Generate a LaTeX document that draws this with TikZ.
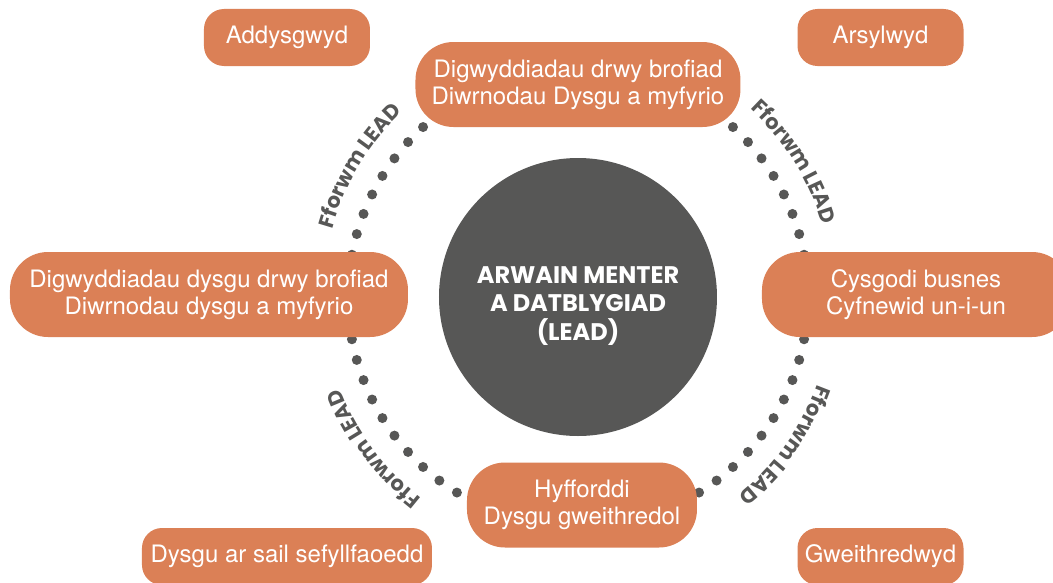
\documentclass[tikz,border=0pt]{standalone}
\usepackage{fontspec}
\usetikzlibrary{positioning, decorations.text}
\newfontfamily\boxfont{TeX Gyre Heros}
\newfontfamily\popfont{Poppins}
\definecolor{leadOrange}{HTML}{DB8056}
\definecolor{leadGrey}{HTML}{575756}

\begin{document}
\begin{tikzpicture}[x=1pt, y=1pt,
	pill/.style={rectangle, rounded corners=20pt, fill=leadOrange, text=white,
		font=\boxfont\fontsize{24}{27}\selectfont, align=center,
		minimum height=57pt, inner sep=0pt},
	bigpill/.style={pill, rounded corners=38pt, minimum height=85pt},
	forum/.style={decorate, decoration={text along path, text align=center,
		text color=leadGrey,
		text={|\popfont\bfseries\fontsize{21}{21}\selectfont|Fforwm LEAD}}}]
	\useasboundingbox (-578,-285) rectangle (475,297);
	
	% ring of dots
	\foreach \k in {0,...,67}
		\fill[leadGrey] (\k*90/17:230pt) circle[radius=5pt];
	
	% forum labels
	\path[forum] (179:255pt) arc[start angle=179, end angle=119, radius=255pt];
	\path[forum] (62:255pt) arc[start angle=62, end angle=2, radius=255pt];
	\path[forum] (247:255pt) arc[start angle=247, end angle=186, radius=255pt];
	\path[forum] (355:255pt) arc[start angle=355, end angle=294, radius=255pt];
	
	% hub
	\fill[leadGrey] (0,0) circle[radius=139pt];
	\node[text=white, align=center, font=\popfont\bfseries\fontsize{24}{28.5}\selectfont]
		(lead) at (0,-9) {ARWAIN MENTER\\A DATBLYGIAD\\(LEAD)};
	
	% activities
	\node[bigpill, minimum width=325pt] (drwy) at (0,212.5)
		{Digwyddiadau drwy brofiad\\Diwrnodau Dysgu a myfyrio};
	\node[bigpill, minimum width=398pt] (dysgu) at (-369,2.5)
		{Digwyddiadau dysgu drwy brofiad\\Diwrnodau dysgu a myfyrio};
	\node[bigpill, minimum width=308pt] (cysgodi) at (338,2.5)
		{Cysgodi busnes\\Cyfnewid un-i-un};
	\node[bigpill, minimum width=230pt] (hyfforddi) at (4,-208)
		{Hyfforddi\\Dysgu gweithredol};
	
	% corners
	\node[pill, minimum width=166pt] (addysgwyd) at (-291,259.5) {Addysgwyd};
	\node[pill, minimum width=166pt] (arsylwyd) at (302.5,259.5) {Arsylwyd};
	\node[pill, minimum width=290pt] (sefyllfa) at (-291,-259.5) {Dysgu ar sail sefyllfaoedd};
	\node[pill, minimum width=166pt] (gweithredwyd) at (302.5,-259.5) {Gweithredwyd};
\end{tikzpicture}
\end{document}
